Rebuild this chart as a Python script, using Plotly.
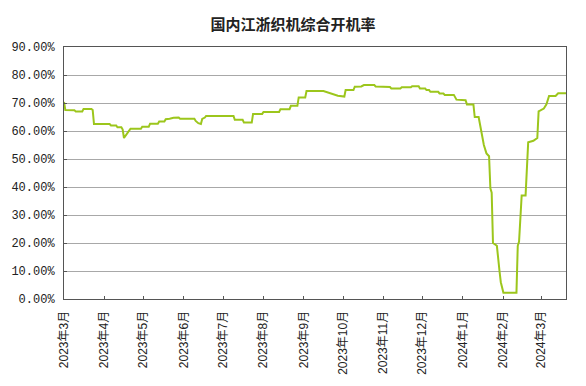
import plotly.graph_objects as go

dates = [
    "2023-03-01", "2023-03-02", "2023-03-09", "2023-03-10", "2023-03-15", "2023-03-16",
    "2023-03-22", "2023-03-23", "2023-03-24", "2023-04-05", "2023-04-06", "2023-04-10",
    "2023-04-11", "2023-04-14", "2023-04-15", "2023-04-16", "2023-04-19", "2023-04-21",
    "2023-04-29", "2023-04-30", "2023-05-05", "2023-05-06", "2023-05-12", "2023-05-13",
    "2023-05-17", "2023-05-18", "2023-05-21", "2023-05-24", "2023-05-28", "2023-05-29",
    "2023-06-09", "2023-06-10", "2023-06-12", "2023-06-14", "2023-06-15", "2023-06-17",
    "2023-06-18", "2023-07-09", "2023-07-10", "2023-07-16", "2023-07-17", "2023-07-23",
    "2023-07-24", "2023-07-31", "2023-08-01", "2023-08-13", "2023-08-14", "2023-08-21",
    "2023-08-22", "2023-08-27", "2023-08-28", "2023-09-02", "2023-09-03", "2023-09-16",
    "2023-09-27", "2023-10-02", "2023-10-03", "2023-10-09", "2023-10-10", "2023-10-15",
    "2023-10-17", "2023-10-25", "2023-10-26", "2023-11-06", "2023-11-07", "2023-11-14",
    "2023-11-15", "2023-11-22", "2023-11-23", "2023-11-28", "2023-11-29", "2023-12-03",
    "2023-12-04", "2023-12-06", "2023-12-07", "2023-12-13", "2023-12-14", "2023-12-17",
    "2023-12-18", "2023-12-25", "2023-12-27", "2024-01-03", "2024-01-04", "2024-01-09",
    "2024-01-10", "2024-01-13", "2024-01-14", "2024-01-15", "2024-01-17", "2024-01-19",
    "2024-01-21", "2024-01-22", "2024-01-23", "2024-01-24", "2024-01-27", "2024-01-29",
    "2024-01-30", "2024-02-01", "2024-02-11", "2024-02-12", "2024-02-13", "2024-02-15",
    "2024-02-18", "2024-02-20", "2024-02-24", "2024-02-27", "2024-02-28", "2024-03-03",
    "2024-03-05", "2024-03-07", "2024-03-12", "2024-03-14", "2024-03-20",
]
rates = [
    70.4, 67.5, 67.4, 67.0, 67.0, 67.9,
    67.9, 67.5, 62.5, 62.5, 62.0, 62.0,
    61.3, 61.3, 60.5, 57.5, 59.5, 60.8,
    60.8, 61.5, 61.5, 62.6, 62.6, 63.4,
    63.4, 64.2, 64.4, 64.7, 64.8, 64.4,
    64.4, 63.6, 62.8, 62.5, 64.3, 64.8,
    65.4, 65.4, 64.0, 64.0, 63.0, 63.0,
    66.1, 66.1, 66.8, 66.8, 67.8, 67.8,
    69.0, 69.0, 72.0, 72.0, 74.3, 74.3,
    72.6, 72.3, 74.6, 74.6, 75.8, 75.9,
    76.4, 76.4, 75.9, 75.7, 75.2, 75.2,
    75.6, 75.6, 76.0, 76.0, 75.2, 75.2,
    74.6, 74.6, 74.0, 74.0, 73.4, 73.4,
    72.9, 72.9, 71.2, 71.0, 69.5, 69.5,
    65.0, 65.0, 62.5, 60.0, 55.0, 52.0,
    51.0, 39.5, 38.0, 20.0, 19.0, 10.0,
    6.0, 2.2, 2.2, 19.0, 20.5, 37.0,
    37.0, 56.0, 56.5, 57.5, 67.0, 68.0,
    69.5, 72.5, 72.5, 73.5, 73.5,
]

tick_dates = ["2023-03-01", "2023-04-01", "2023-05-01", "2023-06-01", "2023-07-01",
              "2023-08-01", "2023-09-01", "2023-10-01", "2023-11-01", "2023-12-01",
              "2024-01-01", "2024-02-01", "2024-03-01"]
tick_labels = ["2023年3月", "2023年4月", "2023年5月", "2023年6月", "2023年7月",
               "2023年8月", "2023年9月", "2023年10月", "2023年11月", "2023年12月",
               "2024年1月", "2024年2月", "2024年3月"]
y_ticks = [0, 10, 20, 30, 40, 50, 60, 70, 80, 90]
y_tick_labels = ["0.00%", "10.00%", "20.00%", "30.00%", "40.00%",
                 "50.00%", "60.00%", "70.00%", "80.00%", "90.00%"]

fig = go.Figure()
fig.add_trace(go.Scatter(
    x=dates, y=rates, mode="lines",
    line=dict(color="#9cc61c", width=2),
    showlegend=False,
))

fig.update_layout(
    width=586, height=386,
    margin=dict(l=64, r=20, t=47, b=87),
    paper_bgcolor="white", plot_bgcolor="white",
    title=dict(text="<b>国内江浙织机综合开机率</b>", x=0.5, xanchor="center",
               y=0.935, yanchor="middle",
               font=dict(family="Noto Sans CJK SC", size=15, color="#222")),
    font=dict(family="Liberation Sans, Noto Sans CJK SC", size=12, color="#222"),
)
fig.update_xaxes(
    type="date", range=["2023-03-01", "2024-03-20"],
    tickvals=tick_dates, ticktext=tick_labels, tickangle=-90,
    ticks="inside", ticklen=3, tickcolor="#555",
    showgrid=False, showline=True, linecolor="#555", linewidth=1, mirror=True,
    tickfont=dict(family="Liberation Sans, Noto Sans CJK SC", size=12, color="#222"),
    ticklabelstandoff=6,
)
fig.update_yaxes(
    range=[0, 90], tickvals=y_ticks, ticktext=y_tick_labels,
    ticks="inside", ticklen=3, tickcolor="#555",
    showgrid=True, gridcolor="#a8a8a8", gridwidth=1, zeroline=False,
    showline=True, linecolor="#555", linewidth=1, mirror=True,
    tickfont=dict(family="Liberation Mono", size=12, color="#222"),
    ticklabelstandoff=6,
)

fig.write_html("out.html")
